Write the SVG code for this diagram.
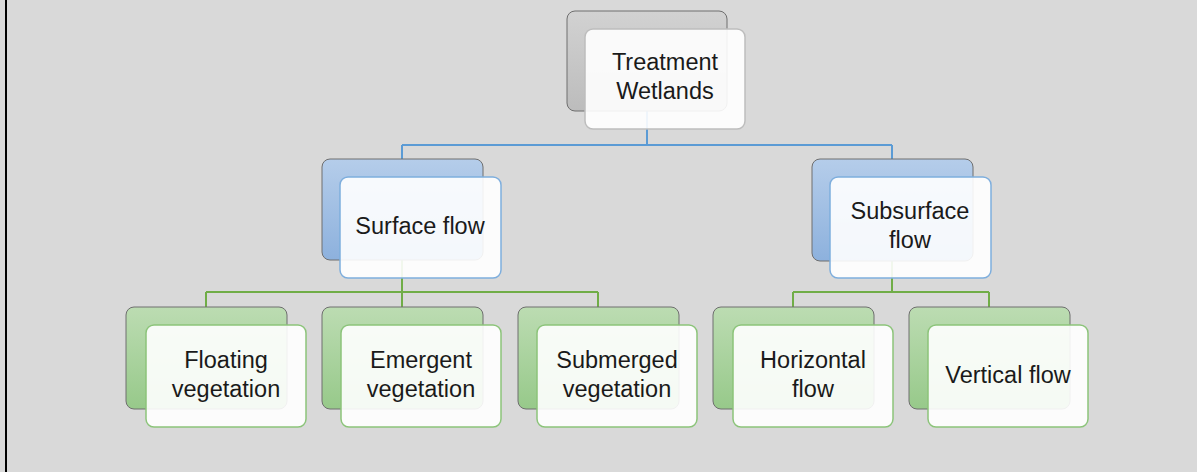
<svg xmlns="http://www.w3.org/2000/svg" width="1197" height="472" viewBox="0 0 1197 472">
<defs>
<linearGradient id="gGray" x1="0" y1="0" x2="0" y2="1"><stop offset="0" stop-color="#d2d2d2"/><stop offset="1" stop-color="#bcbcbc"/></linearGradient>
<linearGradient id="gBlue" x1="0" y1="0" x2="0" y2="1"><stop offset="0" stop-color="#b5cdea"/><stop offset="1" stop-color="#8db1dd"/></linearGradient>
<linearGradient id="gGreen" x1="0" y1="0" x2="0" y2="1"><stop offset="0" stop-color="#bcdcb2"/><stop offset="1" stop-color="#97c98a"/></linearGradient>
<style>
.back{stroke:#6e6e6e;stroke-width:1}
.front{fill:#ffffff;fill-opacity:0.9;stroke-width:1.5}
.fg{stroke:#bdbdbd}
.fb{stroke:#7eaedd}
.fn{stroke:#8cc47a}
.t{font-family:"Liberation Sans",Arial,sans-serif;font-size:23.5px;fill:#1a1a1a;text-anchor:middle}
.cb{fill:none;stroke:#5b9bd5;stroke-width:2}
.cg{fill:none;stroke:#70ad47;stroke-width:2}
</style>
</defs>
<rect x="0" y="0" width="1197" height="472" fill="#d9d9d9"/>
<rect x="5" y="0" width="2" height="472" fill="#000"/>

<g id="connectors">
<path class="cb" d="M647 111 V145 M402 145 H892 M402 145 V159 M892 145 V159"/>
<path class="cg" d="M402 260 V292 M206 292 H598 M206 292 V307 M402 292 V307 M598 292 V307"/>
<path class="cg" d="M892 261 V292 M793 292 H989 M793 292 V307 M989 292 V307"/>
</g>

<g id="treatment-wetlands">
<rect class="back" x="567" y="11" width="160" height="100" rx="8" fill="url(#gGray)"/>
<rect class="front fg" x="585" y="29" width="160" height="100" rx="8"/>
<text class="t" x="665" y="70">Treatment</text>
<text class="t" x="665" y="99">Wetlands</text>
</g>

<g id="surface-flow">
<rect class="back" x="322" y="159" width="161" height="101" rx="8" fill="url(#gBlue)"/>
<rect class="front fb" x="340" y="177" width="161" height="101" rx="8"/>
<text class="t" x="420" y="234">Surface flow</text>
</g>

<g id="subsurface-flow">
<rect class="back" x="812" y="159" width="161" height="102" rx="8" fill="url(#gBlue)"/>
<rect class="front fb" x="830" y="177" width="161" height="101" rx="8"/>
<text class="t" x="910" y="219">Subsurface</text>
<text class="t" x="910" y="248">flow</text>
</g>

<g id="floating-vegetation">
<rect class="back" x="126" y="307" width="161" height="102" rx="8" fill="url(#gGreen)"/>
<rect class="front fn" x="146" y="325" width="160" height="102" rx="8"/>
<text class="t" x="226" y="368">Floating</text>
<text class="t" x="226" y="397">vegetation</text>
</g>

<g id="emergent-vegetation">
<rect class="back" x="322" y="307" width="161" height="102" rx="8" fill="url(#gGreen)"/>
<rect class="front fn" x="341" y="325" width="160" height="102" rx="8"/>
<text class="t" x="421" y="368">Emergent</text>
<text class="t" x="421" y="397">vegetation</text>
</g>

<g id="submerged-vegetation">
<rect class="back" x="518" y="307" width="161" height="102" rx="8" fill="url(#gGreen)"/>
<rect class="front fn" x="537" y="325" width="160" height="102" rx="8"/>
<text class="t" x="617" y="368">Submerged</text>
<text class="t" x="617" y="397">vegetation</text>
</g>

<g id="horizontal-flow">
<rect class="back" x="713" y="307" width="161" height="102" rx="8" fill="url(#gGreen)"/>
<rect class="front fn" x="733" y="325" width="160" height="102" rx="8"/>
<text class="t" x="813" y="368">Horizontal</text>
<text class="t" x="813" y="397">flow</text>
</g>

<g id="vertical-flow">
<rect class="back" x="909" y="307" width="161" height="102" rx="8" fill="url(#gGreen)"/>
<rect class="front fn" x="928" y="325" width="160" height="102" rx="8"/>
<text class="t" x="1008" y="383">Vertical flow</text>
</g>
</svg>
